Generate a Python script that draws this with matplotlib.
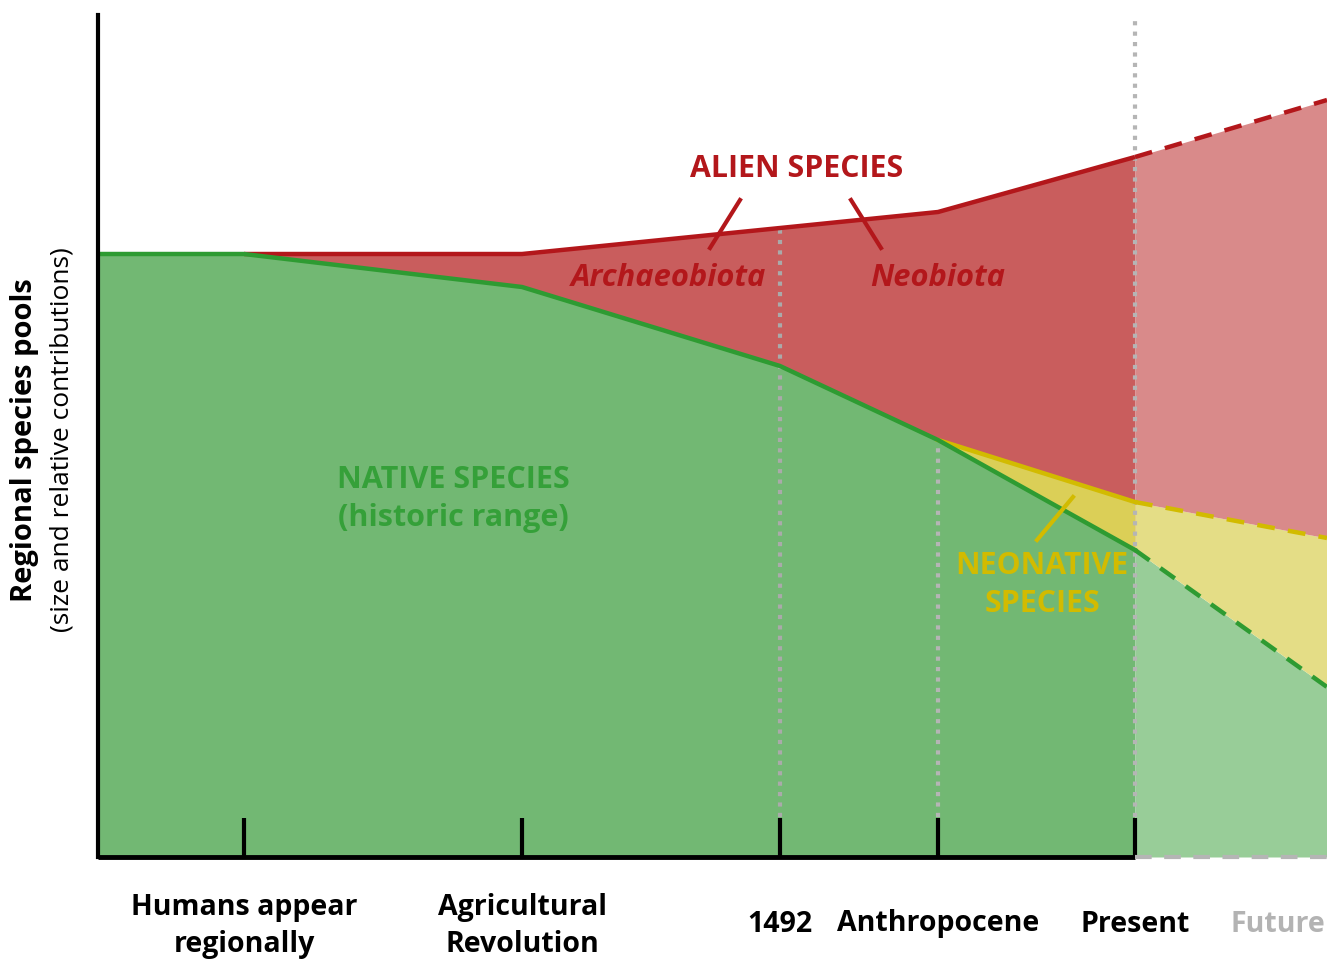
import matplotlib
matplotlib.use("Agg")
from matplotlib import pyplot as plt
import numpy as np

plt.rcParams['font.family'] = ['Open Sans', 'DejaVu Sans']

# time stages (arbitrary axis units) and tick labels
stage_x = [146, 424, 682, 840, 1037]
stage_labels = ['Humans appear\nregionally', 'Agricultural\nRevolution', '1492', 'Anthropocene', 'Present']
future_x = 1229

# past / present boundaries (size of species pool)
past_x = [0, 146, 424, 682, 840, 1037]
native_top = [603, 603, 570, 491, 417, 307]
alien_top = [603, 603, 603, 629, 645, 700]
neo_x = [840, 1037]
neo_top = [417, 355]

# projected future values
fut_x = [1037, 1229]
fut_native = [307, 170]
fut_neo = [355, 319]
fut_alien = [700, 757]

GREEN_F, GREEN_L, GREEN_FUT = '#72b873', '#2e9b32', '#98cd98'
RED_F, RED_L, RED_FUT = '#c95d5d', '#b3171b', '#d98a8a'
YEL_F, YEL_L, YEL_FUT = '#dbcf57', '#d2bb00', '#e4dd86'

fig = plt.figure(figsize=(13.27, 9.61), dpi=100)
ax = fig.add_axes([98/1327, 104/961, 1229/1327, 842/961])
ax.set_xlim(0, future_x)
ax.set_ylim(0, 842)
ax.set_axisbelow(False)

# filled areas
ax.fill_between(past_x, 0, native_top, color=GREEN_F, lw=0)
ax.fill_between(past_x, native_top, alien_top, color=RED_F, lw=0)
ax.fill_between(neo_x, [417, 307], neo_top, color=YEL_F, lw=0)
ax.fill_between(fut_x, 0, fut_native, color=GREEN_FUT, lw=0)
ax.fill_between(fut_x, fut_native, fut_neo, color=YEL_FUT, lw=0)
ax.fill_between(fut_x, fut_neo, fut_alien, color=RED_FUT, lw=0)

# vertical dotted guides
ax.plot([682, 682], [40, 629], color='#aaaaaa', lw=3, ls=(0, (1, 1.5)))
ax.plot([840, 840], [40, 417], color='#b5b5b5', lw=3, ls=(0, (1, 1.5)))
ax.plot([1037, 1037], [40, 842], color='#b5b5b5', lw=3, ls=(0, (1, 1.5)))

# boundary lines
ax.plot(past_x[1:], alien_top[1:], color=RED_L, lw=3.2, solid_capstyle='butt')
ax.plot(neo_x, neo_top, color=YEL_L, lw=3.2)
ax.plot(past_x, native_top, color=GREEN_L, lw=3.2)
ax.plot(fut_x, fut_alien, color=RED_L, lw=3.2, ls=(0, (4, 3)))
ax.plot(fut_x, fut_neo, color=YEL_L, lw=3.2, ls=(0, (4, 3)))
ax.plot(fut_x, fut_native, color=GREEN_L, lw=3.2, ls=(0, (4, 3)))

# axes
for s in ['top', 'right', 'bottom']:
    ax.spines[s].set_visible(False)
ax.spines['left'].set_linewidth(3)
ax.plot([0, 1037], [0, 0], color='black', lw=3.5, clip_on=False, solid_capstyle='butt', zorder=3)
ax.plot([1037, future_x], [0, 0], color='#b5b5b5', lw=3, ls=(0, (4, 3)), clip_on=False, zorder=3)
ax.set_xticks(stage_x)
ax.set_xticklabels([])
ax.set_yticks([])
ax.tick_params(axis='x', direction='in', length=28, width=3, color='black')

# x labels
for x, lab in zip(stage_x, stage_labels):
    y = -69 if '\n' in lab else -67
    ax.text(x, y, lab, ha='center', va='center', fontsize=20.5, fontweight='bold',
            linespacing=1.37, clip_on=False)
ax.text(1180, -67, 'Future', ha='center', va='center', fontsize=20.5, fontweight='bold',
        color='#b3b3b3', clip_on=False)

# y label
fig.text(25/1327, 1-440/961, 'Regional species pools', rotation=90, ha='center', va='center',
         fontsize=21, fontweight='bold')
fig.text(62/1327, 1-440/961, '(size and relative contributions)', rotation=90, ha='center',
         va='center', fontsize=19)

# annotations
ax.text(699, 688, 'ALIEN SPECIES', ha='center', va='center', fontsize=21.8, fontweight='bold', color=RED_L)
ax.plot([642, 612], [657, 609], color=RED_L, lw=3)
ax.plot([753, 783], [657, 609], color=RED_L, lw=3)
ax.text(571, 579, 'Archaeobiota', ha='center', va='center', fontsize=22.2, fontweight='bold',
        fontstyle='italic', color=RED_L)
ax.text(840, 579, 'Neobiota', ha='center', va='center', fontsize=22.2, fontweight='bold',
        fontstyle='italic', color=RED_L)
ax.text(355, 358, 'NATIVE SPECIES\n(historic range)', ha='center', va='center', fontsize=22,
        fontweight='bold', color='#35a039', linespacing=1.35)
ax.text(944, 272, 'NEONATIVE\nSPECIES', ha='center', va='center', fontsize=21.8,
        fontweight='bold', color=YEL_L, linespacing=1.35)
ax.plot([939, 975], [317, 360], color=YEL_L, lw=3)

fig.savefig('out.png', dpi=100)
